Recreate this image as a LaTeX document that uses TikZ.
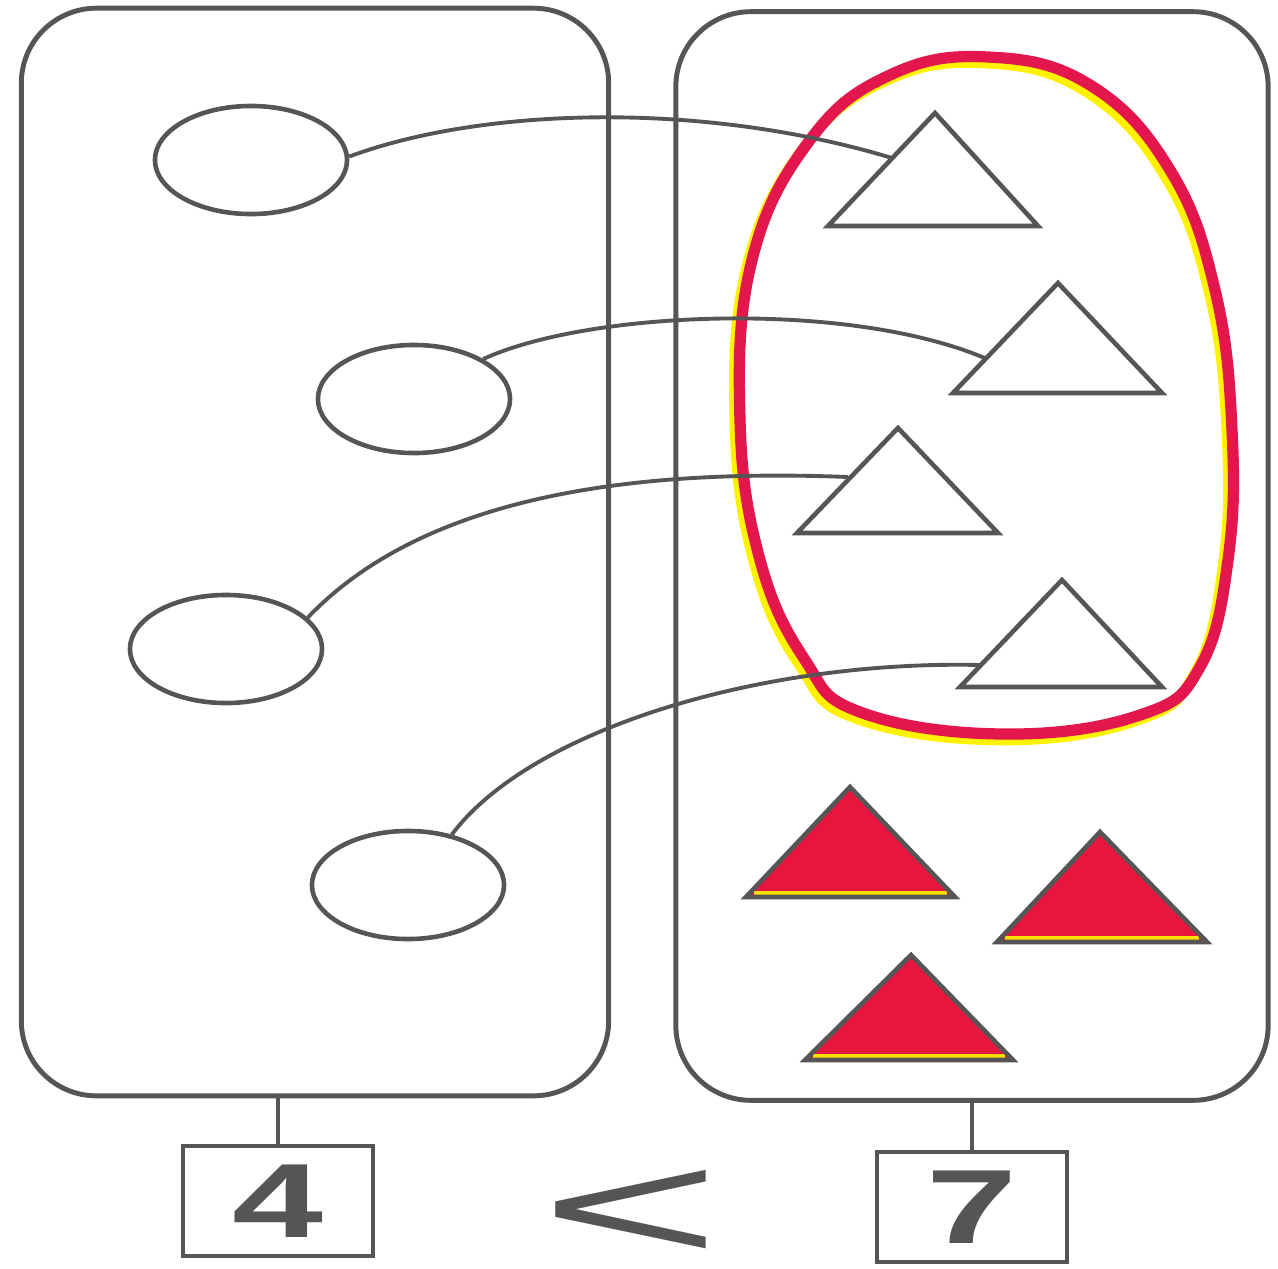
\documentclass[tikz,border=0pt]{standalone}
\usepackage{fontspec}
\setmainfont{Liberation Sans}
\usetikzlibrary{shapes.geometric}

\definecolor{ink}{HTML}{555555}
\definecolor{loopred}{HTML}{E3174D}
\definecolor{fillred}{HTML}{E8163E}
\definecolor{loopyel}{HTML}{FFF200}

\newcommand{\widedigit}[1]{\scalebox{1.55}[1]{\bfseries #1}}

\tikzset{
  setbox/.style = {draw=ink, line width=1.4pt, rounded corners=0.75cm, minimum width=5.87cm, minimum height=10.87cm},
  oval/.style = {draw=ink, line width=1.3pt, ellipse, minimum width=1.92cm, minimum height=1.08cm, inner sep=0pt},
  numbox/.style = {draw=ink, line width=1.2pt, minimum width=1.9cm, minimum height=1.1cm, inner sep=0pt, text=ink, font=\fontsize{30}{30}\selectfont},
  link/.style = {draw=ink, line width=1.1pt},
  tri/.style = {draw=ink, line width=1.3pt, line join=miter}
}

\begin{document}
\begin{tikzpicture}[x=0.01cm, y=-0.01cm]
\useasboundingbox (0,0) rectangle (1278,1269);
\fill[white] (0,0) rectangle (1278,1269);

% the two sets
\node[setbox] (left) at (315,552) {};
\node[setbox, minimum width=5.92cm, minimum height=10.88cm] (right) at (972,556) {};

% red loop round the four matched triangles
\def\looppts{(988,57) (1090,85) (1170,170) (1215,290) (1232,430) (1228,560) (1200,667) (1140,715) (1003,734) (860,712) (805,660) (760,560) (740,420) (752,260) (810,140) (890,75)}
\draw[loopyel, line width=3pt, shift={(-5,6)}] plot[smooth cycle, tension=0.7] coordinates {\looppts};
\draw[loopred, line width=3.2pt] plot[smooth cycle, tension=0.7] coordinates {\looppts};

% ovals
\node[oval] (e1) at (251,160) {};
\node[oval] (e2) at (414,399) {};
\node[oval] (e3) at (226,649) {};
\node[oval] (e4) at (408,885) {};

% open triangles
\draw[tri] (935,113) -- (1038,226) -- (828,226) -- cycle;
\draw[tri] (1058,283) -- (1162,393) -- (953,393) -- cycle;
\draw[tri] (898,428) -- (998,533) -- (797,533) -- cycle;
\draw[tri] (1062,580) -- (1162,687) -- (960,687) -- cycle;
\coordinate (t1) at (892,158);
\coordinate (t2) at (987,359);
\coordinate (t3) at (848,477);
\coordinate (t4) at (980,665);

% filled triangles
\foreach \ax/\ay/\bl/\br/\by in {850/787/746/955/897, 1100/832/997/1207/942, 911/955/805/1013/1060} {
  \fill[fillred] (\ax,\ay) -- (\br,\by) -- (\bl,\by) -- cycle;
  \draw[loopyel!85!orange, line width=1pt] (\bl+8,\by-4) -- (\br-8,\by-4);
  \draw[tri] (\ax,\ay) -- (\br,\by) -- (\bl,\by) -- cycle;
}

% matching lines
\draw[link] (e1.2) .. controls (480,108) and (700,100) .. (t1);
\draw[link] (e2.30) .. controls (590,310) and (850,300) .. (t2);
\draw[link] (e3.21) .. controls (420,500) and (620,468) .. (t3);
\draw[link] (e4.49) .. controls (530,730) and (760,660) .. (t4);

% counts
\node[numbox] (n4) at (278,1201) {\widedigit{4}};
\node[numbox] (n7) at (972,1207) {\widedigit{7}};
\draw[link, line width=1.3pt] (n4.north) -- (n4.north |- left.south);
\draw[link, line width=1.3pt] (n7.north) -- (n7.north |- right.south);
\node[text=ink, font=\fontsize{44}{44}\selectfont, inner sep=0pt, anchor=base] (lt) at (631,1260) {\scalebox{2.0}[1]{<}};
\end{tikzpicture}
\end{document}
